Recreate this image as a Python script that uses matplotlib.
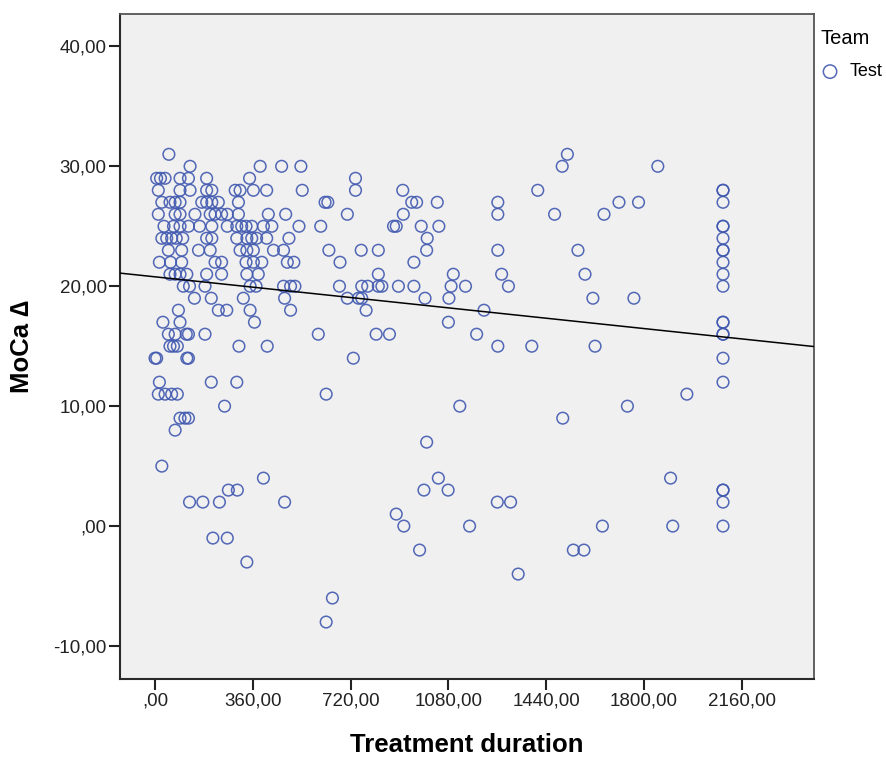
import numpy as np
import matplotlib
matplotlib.use('Agg')
import matplotlib.pyplot as plt
from matplotlib.ticker import FuncFormatter

plt.rcParams['font.family'] = ['Liberation Sans', 'DejaVu Sans']

# treatment duration (days) and MoCa change
duration = [51, 1518,
            129, 387, 466, 537, 1499, 1851,
            6, 20, 37, 92, 123, 190, 348, 738,
            12, 92, 129, 190, 209, 295, 313, 362, 411, 542, 738, 912, 1409, 2091, 2091,
            25, 55, 74, 92, 172, 190, 209, 233, 307, 626, 636, 945, 963, 1039, 1262, 1708, 1780, 2091,
            12, 74, 92, 147, 203, 221, 245, 266, 307, 417, 481, 708, 914, 1262, 1471, 1653,
            33, 68, 92, 123, 164, 209, 266, 301, 319, 335, 356, 399, 430, 530, 610, 878, 888, 980, 1045, 2091, 2091,
            25, 43, 61, 78, 102, 190, 209, 301, 338, 356, 374, 411, 493, 1002, 2091,
            49, 98, 160, 203, 313, 338, 362, 436, 473, 640, 759, 822, 1000, 1262, 1557, 2091, 2091,
            16, 57, 98, 221, 245, 335, 362, 393, 487, 511, 681, 953, 2091,
            55, 74, 92, 117, 190, 245, 338, 380, 822, 1098, 1276, 1583, 2091,
            104, 127, 184, 350, 372, 473, 499, 515, 679, 761, 783, 822, 835, 896, 953, 1090, 1143, 1301, 2091,
            145, 207, 325, 477, 708, 749, 761, 994, 1082, 1612, 1763,
            86, 233, 264, 350, 499, 777, 1211,
            29, 92, 366, 1080, 2091, 2091,
            49, 74, 115, 123, 184, 601, 814, 863, 1184, 2091, 2091,
            55, 68, 82, 309, 413, 1262, 1387, 1620,
            0, 6, 117, 123, 730, 2091,
            16, 207, 301, 2091,
            12, 37, 61, 82, 630, 1958,
            256, 1122, 1739,
            92, 110, 123, 1501,
            74,
            1000,
            25,
            399, 1043, 1898,
            270, 303, 990, 1079, 2091, 2091,
            127, 176, 237, 477, 1260, 1309, 2091,
            888,
            916, 1158, 1647, 1906, 2091,
            213, 266,
            974, 1540, 1579,
            338,
            1337,
            653,
            630]

moca_delta = [31, 31,
              30, 30, 30, 30, 30, 30,
              29, 29, 29, 29, 29, 29, 29, 29,
              28, 28, 28, 28, 28, 28, 28, 28, 28, 28, 28, 28, 28, 28, 28,
              27, 27, 27, 27, 27, 27, 27, 27, 27, 27, 27, 27, 27, 27, 27, 27, 27, 27,
              26, 26, 26, 26, 26, 26, 26, 26, 26, 26, 26, 26, 26, 26, 26, 26,
              25, 25, 25, 25, 25, 25, 25, 25, 25, 25, 25, 25, 25, 25, 25, 25, 25, 25, 25, 25, 25,
              24, 24, 24, 24, 24, 24, 24, 24, 24, 24, 24, 24, 24, 24, 24,
              23, 23, 23, 23, 23, 23, 23, 23, 23, 23, 23, 23, 23, 23, 23, 23, 23,
              22, 22, 22, 22, 22, 22, 22, 22, 22, 22, 22, 22, 22,
              21, 21, 21, 21, 21, 21, 21, 21, 21, 21, 21, 21, 21,
              20, 20, 20, 20, 20, 20, 20, 20, 20, 20, 20, 20, 20, 20, 20, 20, 20, 20, 20,
              19, 19, 19, 19, 19, 19, 19, 19, 19, 19, 19,
              18, 18, 18, 18, 18, 18, 18,
              17, 17, 17, 17, 17, 17,
              16, 16, 16, 16, 16, 16, 16, 16, 16, 16, 16,
              15, 15, 15, 15, 15, 15, 15, 15,
              14, 14, 14, 14, 14, 14,
              12, 12, 12, 12,
              11, 11, 11, 11, 11, 11,
              10, 10, 10,
              9, 9, 9, 9,
              8,
              7,
              5,
              4, 4, 4,
              3, 3, 3, 3, 3, 3,
              2, 2, 2, 2, 2, 2, 2,
              1,
              0, 0, 0, 0, 0,
              -1, -1,
              -2, -2, -2,
              -3,
              -4,
              -6,
              -8]

x_ticks = [0, 360, 720, 1080, 1440, 1800, 2160]
y_ticks = [-10, 0, 10, 20, 30, 40]

x = np.array(duration, dtype=float)
y = np.array(moca_delta, dtype=float)

fig = plt.figure(figsize=(8.87, 7.57), dpi=100)
ax = fig.add_axes([120/887, 1-679/757, 694/887, 665/757])
ax.set_facecolor('#f0f0f0')

blue = '#4159b0'
sc = ax.scatter(x, y, s=70, facecolors='none', edgecolors=blue, linewidths=1.1,
                alpha=0.9, label='Test', zorder=3)

# linear fit line over the whole axis
xlim = (-129, 2426)
slope, icpt = np.polyfit(x, y, 1)
xx = np.array(xlim)
ax.plot(xx, icpt + slope*xx, color='black', lw=1.1, zorder=4)

ax.set_xlim(*xlim)
ax.set_ylim(-12.75, 42.7)
ax.set_xticks(x_ticks)
ax.set_yticks(y_ticks)

def comma_fmt(v, pos):
    s = f"{v:.2f}".replace('.', ',')
    if s.startswith('0,'):
        s = s[1:]
    return s

ax.xaxis.set_major_formatter(FuncFormatter(comma_fmt))
ax.yaxis.set_major_formatter(FuncFormatter(comma_fmt))
ax.tick_params(axis='both', length=8, width=1.5, labelsize=13.5, colors='#222222', pad=1.5)

for side in ['left', 'bottom']:
    ax.spines[side].set_color('#2a2a2a')
    ax.spines[side].set_linewidth(1.5)
for side in ['top', 'right']:
    ax.spines[side].set_color('#555555')
    ax.spines[side].set_linewidth(1.3)

ax.set_xlabel('Treatment duration', fontsize=18.5, fontweight='bold', va='center')
ax.xaxis.set_label_coords(0.5, -0.099)
ax.set_ylabel('MoCa \u2206', fontsize=18.5, fontweight='bold', va='center')
ax.yaxis.set_label_coords(-0.141, 0.5)

fig.legend(handles=[sc], labels=['Test'], title='Team', loc='upper left',
           bbox_to_anchor=(821/887, 1-29/757), frameon=False, fontsize=13,
           title_fontsize=14.5, handletextpad=0.6, borderaxespad=0, borderpad=0,
           alignment='left', markerscale=1.15, handlelength=1.0, labelspacing=0.85)

fig.savefig('out.png', dpi=100)
